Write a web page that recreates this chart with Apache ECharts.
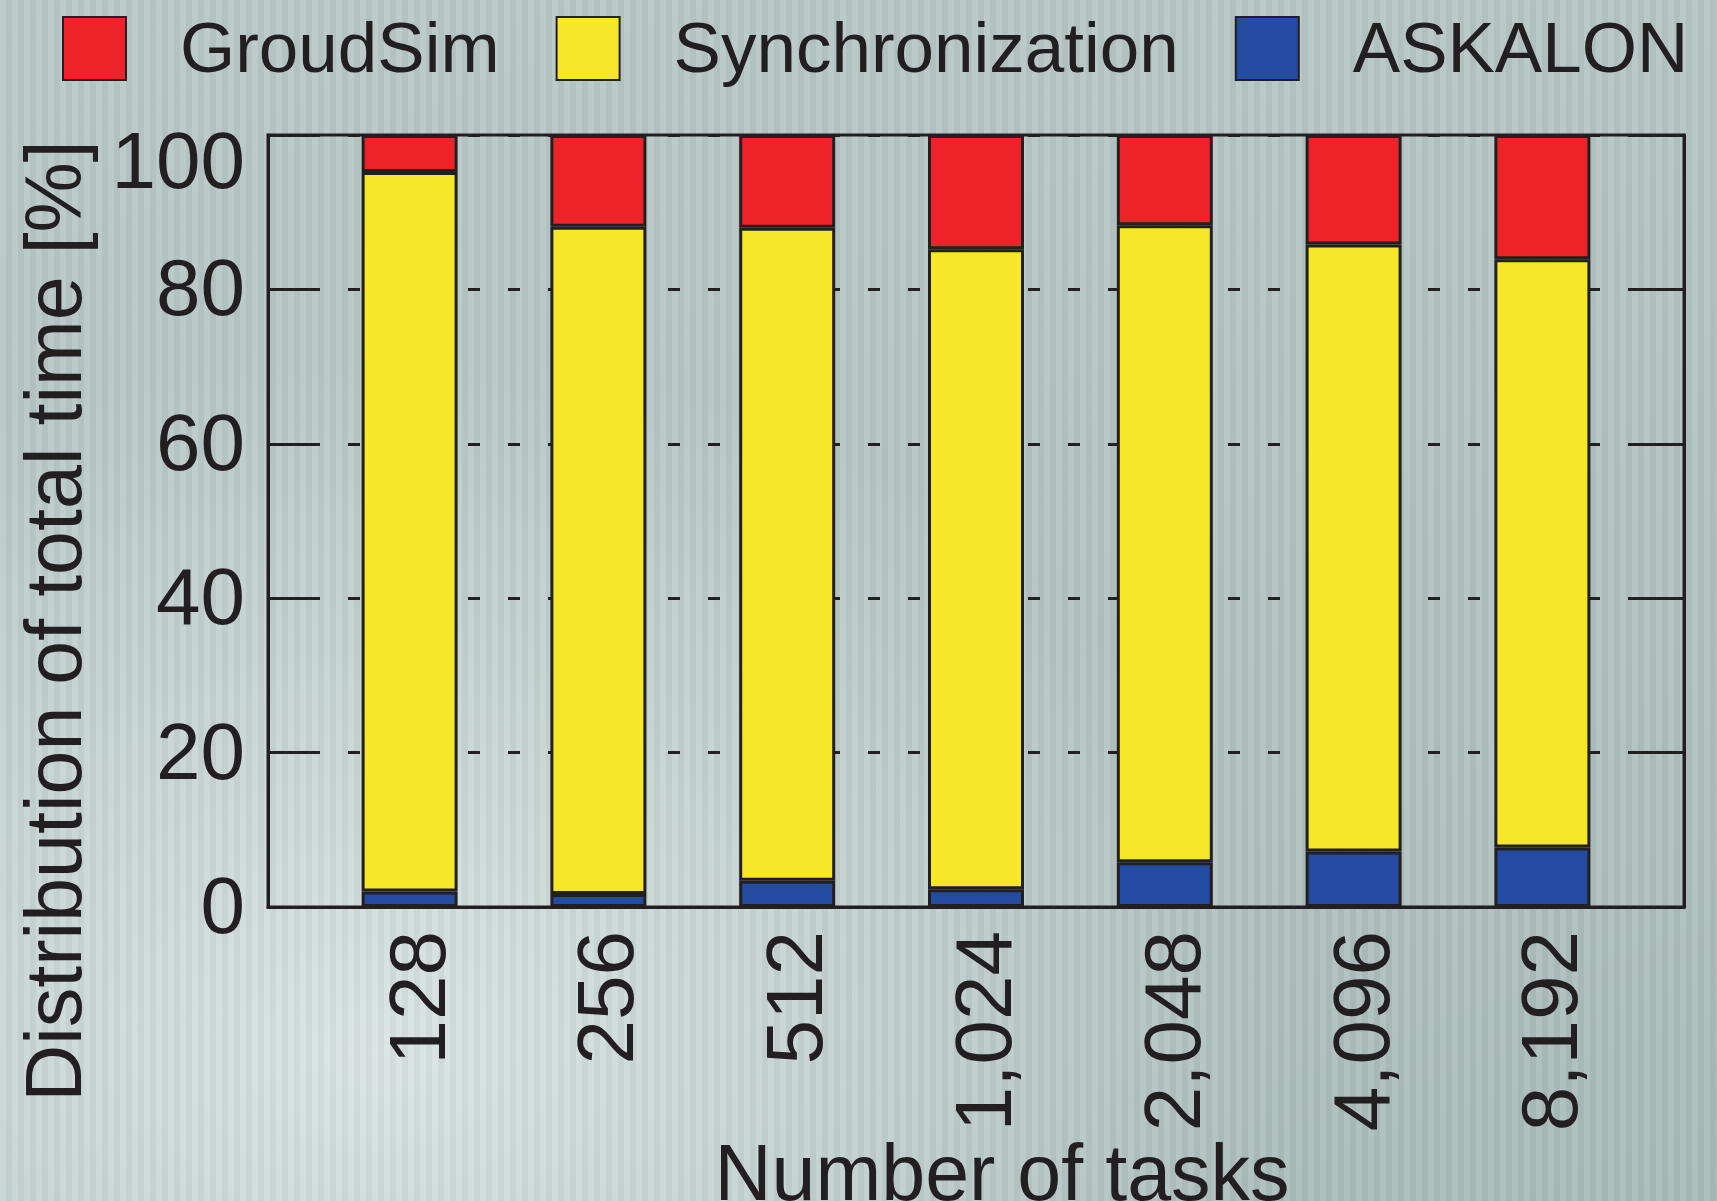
<!DOCTYPE html>
<html>
<head>
<meta charset="utf-8">
<script src="https://cdn.jsdelivr.net/npm/echarts@6/dist/echarts.min.js"></script>
<style>
  html, body { margin: 0; padding: 0; }
  body {
    width: 1717px; height: 1201px; overflow: hidden;
    background:
      repeating-linear-gradient(90deg, rgba(255,255,255,0.06) 0px, rgba(255,255,255,0.06) 6px, rgba(0,0,0,0.03) 6px, rgba(0,0,0,0.03) 12px),
      radial-gradient(ellipse 900px 700px at 380px 1050px, rgba(222,232,230,0.9), rgba(222,232,230,0) 100%),
      linear-gradient(160deg, #b9c9c7 0%, #b4c5c3 45%, #a9bcba 100%);
  }
  #chart { width: 1717px; height: 1201px; }
</style>
</head>
<body>
<div id="chart"></div>
<script>
const tasks = ['128', '256', '512', '1,024', '2,048', '4,096', '8,192']
const askalon = [2.0, 1.7, 3.4, 2.3, 5.8, 7.2, 7.7]
const synchronization = [93.2, 86.4, 84.6, 82.9, 82.5, 78.6, 76.2]
const groudSim = [4.8, 11.9, 12.0, 14.8, 11.7, 14.2, 16.1]

const ink = '#231f20'
const font = 'Liberation Sans'

// frame spans 7.5 category slots, bars sit in the inner 7
const frameLeft = 268
const frameRight = 33
const frameWidth = 1717 - frameLeft - frameRight
const slotPad = frameWidth * 0.25 / 7.5

const chart = echarts.init(document.getElementById('chart'))

const barStyle = (color) => ({
  color: color,
  borderColor: ink,
  borderWidth: 3
})

const option = {
  backgroundColor: 'transparent',
  animation: false,
  textStyle: { fontFamily: font, color: ink },
  legend: {
    data: ['GroudSim', 'Synchronization', 'ASKALON'],
    left: 57,
    top: 11,
    icon: 'rect',
    itemWidth: 63,
    itemHeight: 63,
    itemGap: 56,
    formatter: (name) => '{t|' + name + '}',
    textStyle: {
      fontSize: 71, color: ink, fontFamily: font,
      rich: { t: { fontSize: 71, color: ink, fontFamily: font, padding: [7, 0, 0, 49] } }
    }
  },
  grid: [
    {
      left: frameLeft,
      right: frameRight,
      top: 135,
      bottom: 294,
      show: true,
      borderColor: ink,
      borderWidth: 3,
      backgroundColor: 'transparent',
      outerBoundsMode: 'none'
    },
    {
      left: frameLeft + slotPad,
      right: frameRight + slotPad,
      top: 135,
      bottom: 294,
      outerBoundsMode: 'none'
    }
  ],
  xAxis: [
    {
      gridIndex: 0,
      type: 'value',
      min: 0,
      max: 1,
      axisLine: { show: true, onZero: false, lineStyle: { color: ink, width: 3 } },
      axisTick: { show: false },
      axisLabel: { show: false },
      splitLine: { show: false }
    },
    {
      gridIndex: 1,
      type: 'category',
      data: tasks,
      name: 'Number of tasks',
      nameLocation: 'middle',
      nameGap: 223,
      nameTextStyle: { fontSize: 79, color: ink, fontFamily: font, padding: [0, 0, 0, 52] },
      axisLine: { show: false },
      axisTick: { show: false },
      axisLabel: {
        rotate: 90,
        margin: 24,
        fontSize: 80,
        color: ink,
        fontFamily: font,
        interval: 0,
        formatter: (v) => '{x|' + v + '}',
        rich: { x: { fontSize: 80, color: ink, fontFamily: font, padding: [26, 0, 0, 0] } }
      }
    }
  ],
  yAxis: [
    {
      gridIndex: 0,
      type: 'value',
      min: 0,
      max: 100,
      interval: 20,
      name: 'Distribution of total time [%]',
      nameLocation: 'middle',
      nameGap: 169,
      nameTextStyle: { fontSize: 79, color: ink, fontFamily: font, padding: [0, 200, 0, 0] },
      axisLine: { show: true, lineStyle: { color: ink, width: 3 } },
      axisTick: { show: true, inside: true, length: 46, lineStyle: { color: ink, width: 3 } },
      axisLabel: {
        margin: 23,
        fontSize: 80,
        color: ink,
        fontFamily: font,
        formatter: (v) => (v === 100 ? '{top|100}' : '{n|' + v + '}'),
        rich: {
          top: { fontSize: 80, fontFamily: font, color: ink, padding: [62, 0, 0, 0] },
          n: { fontSize: 80, fontFamily: font, color: ink, padding: [8, 0, 0, 0] }
        }
      },
      splitLine: {
        show: true,
        lineStyle: { color: ink, width: 3, type: [12, 28] }
      }
    },
    {
      gridIndex: 0,
      type: 'value',
      position: 'right',
      min: 0,
      max: 100,
      interval: 20,
      axisLine: { show: true, lineStyle: { color: ink, width: 3 } },
      axisTick: { show: true, inside: true, length: 48, lineStyle: { color: ink, width: 3 } },
      axisLabel: { show: false },
      splitLine: { show: false }
    },
    {
      gridIndex: 1,
      type: 'value',
      min: 0,
      max: 100,
      show: false
    }
  ],
  series: [
    {
      name: 'ASKALON',
      type: 'bar',
      stack: 'total',
      xAxisIndex: 1,
      yAxisIndex: 2,
      barWidth: 96,
      data: askalon,
      itemStyle: barStyle('#234ba0')
    },
    {
      name: 'Synchronization',
      type: 'bar',
      stack: 'total',
      xAxisIndex: 1,
      yAxisIndex: 2,
      barWidth: 96,
      data: synchronization,
      itemStyle: barStyle('#f7e729')
    },
    {
      name: 'GroudSim',
      type: 'bar',
      stack: 'total',
      xAxisIndex: 1,
      yAxisIndex: 2,
      barWidth: 96,
      data: groudSim,
      itemStyle: barStyle('#ee2229')
    }
  ]
}

chart.setOption(option)
window.addEventListener('resize', () => chart.resize())
</script>
</body>
</html>
